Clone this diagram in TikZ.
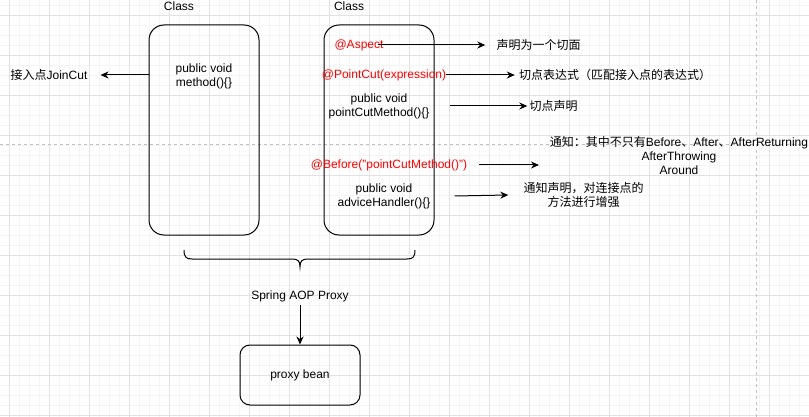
\documentclass[tikz,border=0pt]{standalone}
\usepackage{fontspec}
\setmainfont{Liberation Sans}
\newfontfamily\cjk{Noto Sans CJK SC}
\usetikzlibrary{arrows.meta}
\definecolor{gridminor}{HTML}{F4F4F4}
\definecolor{gridmajor}{HTML}{E2E2E2}
\definecolor{pagebreak}{HTML}{C0C0C0}
\definecolor{annot}{HTML}{FF0000}
\tikzset{
  lbl/.style={font=\fontsize{12pt}{14pt}\selectfont, inner sep=0pt, align=center},
  redlbl/.style={lbl, text=annot},
  classbox/.style={draw, line width=1pt, rounded corners=15pt, minimum width=110pt, minimum height=210pt},
  arr/.style={-{Stealth[length=8pt,width=7pt]}, line width=1pt},
}
\begin{document}
\begin{tikzpicture}[x=1pt,y=-1pt]
\useasboundingbox (0,0) rectangle (809,417);
% Grid and page breaks
\foreach \x in {-1,9,...,809} \draw[gridminor] (\x,0) -- (\x,417);
\foreach \y in {5,15,...,417} \draw[gridminor] (0,\y) -- (809,\y);
\foreach \x in {9,49,...,809} \draw[gridmajor] (\x,0) -- (\x,417);
\foreach \y in {15,55,...,417} \draw[gridmajor] (0,\y) -- (809,\y);
\draw[pagebreak, dashed] (0,144) -- (809,144);
\draw[pagebreak, dashed] (756,0) -- (756,417);
% Left: target class
\node[classbox] (cls1) at (204,130) {};
\node[lbl] (cls1title) at (179,6) {Class};
\node[lbl] (cls1meth) at (204,76) {public void\\method()\{\}};
\node[lbl] (joincut) at (49,75) {{\cjk 接入点}JoinCut};
\draw[arr] (cls1.west |- joincut) -- ([xshift=13pt]joincut.east);
% Right: aspect class
\node[classbox] (cls2) at (379,130) {};
\node[lbl] (cls2title) at (349,6) {Class};
\node[redlbl] (aspect) at (359,45) {@Aspect};
\node[lbl] (aspectnote) at (538.5,45) {\cjk 声明为一个切面};
\draw[arr] ([xshift=-6pt]aspect.east) -- ([xshift=-11pt]aspectnote.west);
\node[redlbl] (pointcut) at (384,75) {@PointCut(expression)};
\node[lbl] (pointcutnote) at (615,75) {\cjk 切点表达式（匹配接入点的表达式）};
\draw[arr] (pointcut.east) -- ([xshift=-4pt]pointcutnote.west);
\node[lbl] (pcmethod) at (379,106) {public void\\pointCutMethod()\{\}};
\node[lbl] (pcnote) at (553.5,106) {\cjk 切点声明};
\draw[arr] ([xshift=20pt]pcmethod.east) -- ([xshift=-2pt]pcnote.west);
\node[redlbl] (before) at (389,165) {@Before("pointCutMethod()")};
\node[lbl] (beforenote) at (679,156) {{\cjk 通知：其中不只有}Before{\cjk 、}After{\cjk 、}AfterReturning\\AfterThrowing\\Around};
\coordinate (beforetip) at (539,165);
\draw[arr] ([xshift=12pt]before.east) -- (beforetip);
\node[lbl] (advice) at (384,196) {public void\\adviceHandler()\{\}};
\node[lbl] (advicenote) at (583.5,195) {{\cjk 通知声明，对连接点的}\\{\cjk 方法进行增强}};
\draw[arr] ([xshift=24pt]advice.east) -- ([xshift=-15pt]advicenote.west);
% Bottom: proxy
\draw[line width=1pt] (184,250) .. controls (184,257) and (186,259) .. (192,259) -- (292,259)
  .. controls (298,259) and (300,261) .. (300,267) .. controls (300,261) and (302,259) .. (308,259)
  -- (407,259) .. controls (413,259) and (415,257) .. (415,250);
\node[lbl] (aopproxy) at (300,296) {Spring AOP Proxy};
\node[lbl, draw, line width=1pt, rounded corners=10pt, minimum width=120pt, minimum height=60pt] (proxybean) at (300,375) {proxy bean};
\draw[arr] ([yshift=-3pt]aopproxy.south) -- (proxybean.north);
\end{tikzpicture}
\end{document}
